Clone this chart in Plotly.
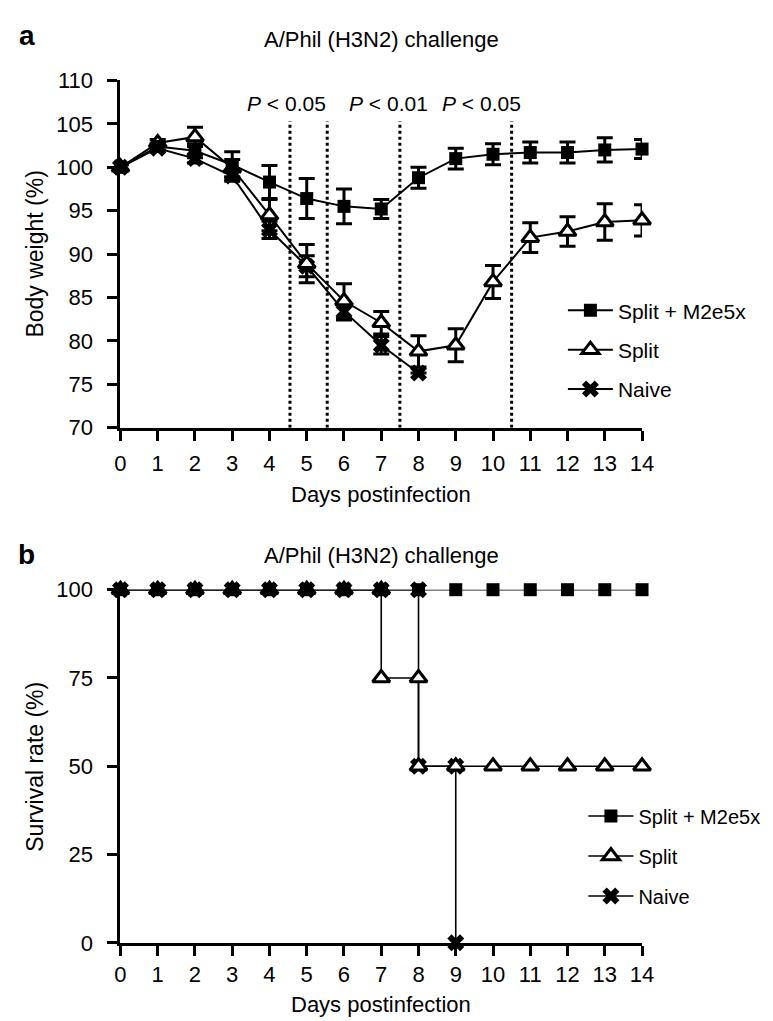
import plotly.graph_objects as go

# ---- data ----
days = list(range(15))

bw_m2e5x = [100, 102.4, 101.9, 100.3, 98.3, 96.4, 95.5, 95.2, 98.8, 101.0, 101.5, 101.7, 101.7, 102.0, 102.1]
bw_m2e5x_err = [0.3, 0.4, 0.8, 1.5, 1.9, 2.3, 2.0, 1.1, 1.2, 1.2, 1.2, 1.2, 1.2, 1.4, 1.1]

bw_split = [100, 102.8, 103.5, 99.9, 94.5, 88.9, 84.6, 82.1, 78.8, 79.5, 86.8, 91.9, 92.6, 93.7, 93.9]
bw_split_err = [0.3, 0.4, 1.1, 1.0, 1.8, 2.2, 2.0, 1.3, 1.8, 1.9, 1.9, 1.7, 1.7, 2.1, 1.8]

naive_days = list(range(9))
bw_naive = [100, 102.2, 101.0, 99.0, 92.8, 88.6, 83.4, 79.5, 76.3]
bw_naive_err = [0.3, 0.3, 0.5, 0.6, 1.0, 1.2, 1.0, 1.0, 0.0]

sig_bounds = [4.55, 5.55, 7.5, 10.5]
p_labels = ["<i>P</i> &lt; 0.05", "<i>P</i> &lt; 0.01", "<i>P</i> &lt; 0.05"]
p_label_x = [4.45, 7.2, 9.7]

# Kaplan-Meier step points (both ends of each drop)
surv_m2e5x_days = list(range(15))
surv_m2e5x = [100] * 15
surv_split_days = [0, 1, 2, 3, 4, 5, 6, 7, 7, 8, 8, 9, 10, 11, 12, 13, 14]
surv_split = [100, 100, 100, 100, 100, 100, 100, 100, 75, 75, 50, 50, 50, 50, 50, 50, 50]
surv_naive_days = [0, 1, 2, 3, 4, 5, 6, 7, 8, 8, 9, 9]
surv_naive = [100, 100, 100, 100, 100, 100, 100, 100, 100, 50, 50, 0]

FONT = "Liberation Sans, Arial, sans-serif"
W, H = 773, 1021


def py(px):
    return 1 - px / H


def px_x(px):
    return px / W


series_style = {
    "m2e5x": dict(name="Split + M2e5x",
                  marker=dict(symbol="square", size=13, color="black",
                              line=dict(width=0))),
    "split": dict(name="Split",
                  marker=dict(symbol="triangle-up", size=15, color="white",
                              line=dict(width=3, color="black"))),
    "naive": dict(name="Naive",
                  marker=dict(symbol="x", size=15, color="black",
                              line=dict(width=0))),
}
rank = {"m2e5x": 1, "split": 2, "naive": 3}

fig = go.Figure()

# ---- panel a: body weight ----
for key, x, y, err in [
    ("naive", naive_days, bw_naive, bw_naive_err),
    ("split", days, bw_split, bw_split_err),
    ("m2e5x", days, bw_m2e5x, bw_m2e5x_err),
]:
    st = series_style[key]
    fig.add_trace(go.Scatter(
        x=x, y=y, mode="lines+markers", name=st["name"],
        line=dict(color="black", width=2),
        marker=st["marker"],
        error_y=dict(type="data", array=err, visible=True, color="black",
                     thickness=3, width=8),
        cliponaxis=False, xaxis="x", yaxis="y",
        legend="legend", legendgroup="a" + key, legendrank=rank[key],
    ))

# ---- panel b: survival ----
for key, x, y in [
    ("naive", surv_naive_days, surv_naive),
    ("split", surv_split_days, surv_split),
    ("m2e5x", surv_m2e5x_days, surv_m2e5x),
]:
    st = series_style[key]
    fig.add_trace(go.Scatter(
        x=x, y=y, mode="lines+markers", name=st["name"],
        line=dict(color="black", width=1.6),
        marker=st["marker"],
        cliponaxis=False, xaxis="x2", yaxis="y2",
        legend="legend2", legendgroup="b" + key, legendrank=rank[key],
    ))

# significance window boundaries
for xb in sig_bounds:
    fig.add_shape(type="line", xref="x", yref="y", x0=xb, x1=xb, y0=70, y1=105.3,
                  line=dict(color="black", width=3, dash="dot"))

axis_common = dict(
    showline=True, linecolor="black", linewidth=3,
    ticks="outside", ticklen=10, tickwidth=3, tickcolor="black",
    showgrid=False, zeroline=False,
    tickfont=dict(family=FONT, size=22, color="black"),
)

fig.update_layout(
    width=W, height=H,
    margin=dict(l=0, r=0, t=0, b=0),
    paper_bgcolor="white", plot_bgcolor="white",
    font=dict(family=FONT, color="black"),
    xaxis=dict(axis_common, domain=[px_x(109), px_x(643)], range=[0, 14],
               tickvals=days, anchor="y", ticklabelstandoff=4),
    yaxis=dict(axis_common, domain=[py(418), py(62)], range=[70, 110],
               tickvals=list(range(70, 111, 5)), anchor="x", ticklabelstandoff=10),
    xaxis2=dict(axis_common, domain=[px_x(109), px_x(643)], range=[0, 14],
                tickvals=days, anchor="y2", ticklabelstandoff=0),
    yaxis2=dict(axis_common, domain=[py(946), py(584)], range=[0, 100],
                tickvals=[0, 25, 50, 75, 100], anchor="x2", ticklabelstandoff=10),
    legend=dict(x=px_x(562), y=py(277), xanchor="left", yanchor="top",
                font=dict(family=FONT, size=21), tracegroupgap=9,
                bgcolor="rgba(0,0,0,0)", itemwidth=45),
    legend2=dict(x=px_x(583), y=py(796), xanchor="left", yanchor="top",
                 font=dict(family=FONT, size=20), tracegroupgap=11,
                 bgcolor="rgba(0,0,0,0)", itemwidth=45),
)

ann = []
# panel letters
ann.append(dict(text="<b>a</b>", x=px_x(13), y=py(16), xref="paper", yref="paper",
                showarrow=False, font=dict(size=28), xanchor="center", yanchor="middle"))
ann.append(dict(text="<b>b</b>", x=px_x(13), y=py(548), xref="paper", yref="paper",
                showarrow=False, font=dict(size=28), xanchor="center", yanchor="middle"))
# titles
for yy in (20, 549):
    ann.append(dict(text="A/Phil (H3N2) challenge", x=px_x(376), y=py(yy),
                    xref="paper", yref="paper", showarrow=False,
                    font=dict(size=22), xanchor="center", yanchor="middle"))
# axis titles
for yy in (486, 1009):
    ann.append(dict(text="Days postinfection", x=px_x(376), y=py(yy),
                    xref="paper", yref="paper", showarrow=False,
                    font=dict(size=22), xanchor="center", yanchor="middle"))
ann.append(dict(text="Body weight (%)", x=px_x(22), y=py(240), xref="paper", yref="paper",
                showarrow=False, textangle=-90, font=dict(size=23),
                xanchor="center", yanchor="middle"))
ann.append(dict(text="Survival rate (%)", x=px_x(22), y=py(765), xref="paper", yref="paper",
                showarrow=False, textangle=-90, font=dict(size=23),
                xanchor="center", yanchor="middle"))
# P values
for xl, lab in zip(p_label_x, p_labels):
    ann.append(dict(text=lab, x=xl, y=107.4, xref="x", yref="y", showarrow=False,
                    font=dict(size=21), xanchor="center", yanchor="middle"))

fig.update_layout(annotations=ann)

fig.write_html("out.html")
